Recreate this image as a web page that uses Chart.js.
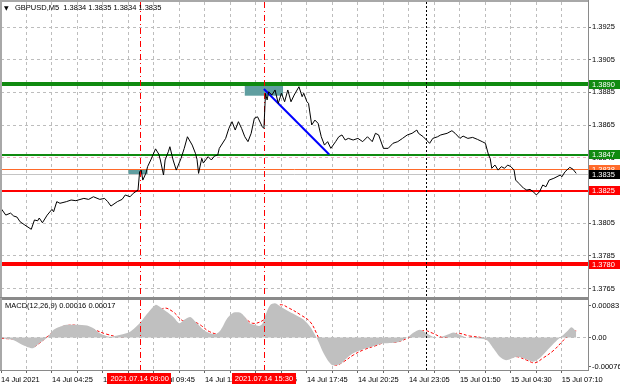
<!DOCTYPE html>
<html>
<head>
<meta charset="utf-8">
<script src="https://cdn.jsdelivr.net/npm/chart.js@4.4.0/dist/chart.umd.min.js"></script>
<style>
  html, body { margin: 0; padding: 0; background: #fff; }
  #wrap { position: relative; width: 620px; height: 388px; overflow: hidden; background: #fff; }
  #priceCanvas { position: absolute; left: 0; top: 0; }
  #macdCanvas { position: absolute; left: 0; top: 298px; }
</style>
</head>
<body>
<div id="wrap">
  <canvas id="priceCanvas" width="620" height="298"></canvas>
  <canvas id="macdCanvas" width="620" height="90"></canvas>
</div>
<script>
// ---- data (x = M5 bar index from the left edge) ----
const priceBars = [0, 3, 6, 8, 10, 12, 15, 19, 21, 23, 24, 26, 29, 32, 33, 35, 37, 41, 44, 47, 52, 55, 58, 62, 65, 67, 69, 73, 76, 78, 81, 83, 86,
  87, 88, 89, 91, 92, 94, 97, 99, 100, 102, 103, 105, 106, 108, 110, 113, 115, 117, 120, 122, 123, 124, 126, 127, 130, 132, 134, 136, 137,
  141, 143, 145, 147, 149, 151, 153, 155, 157, 159, 161, 164, 165, 166, 167, 168, 170, 172, 174, 176, 178, 180, 182, 184, 187, 189, 190,
  192, 193, 195, 197, 199, 201, 203, 205, 207, 210, 212, 214, 216, 218, 221, 224, 227, 230, 233, 235, 237, 240, 243, 246, 249, 252, 255,
  258, 261, 262, 265, 267, 269, 271, 274, 276, 280, 283, 285, 288, 290, 293, 296, 299, 302, 304, 306, 307, 308, 310, 312, 314, 316, 318,
  320, 322, 323, 325, 328, 330, 332, 334, 336, 338, 340, 342, 344, 347, 351, 352, 354, 357, 359, 361];
const priceValues = [1.38141, 1.38100, 1.38112, 1.38094, 1.38088, 1.38059, 1.38039, 1.38013, 1.38070, 1.38065, 1.38082, 1.38053, 1.38100,
  1.38135, 1.38120, 1.38182, 1.38172, 1.38182, 1.38192, 1.38188, 1.38202, 1.38196, 1.38212, 1.38196, 1.38202, 1.38182, 1.38155, 1.38182,
  1.38196, 1.38223, 1.38212, 1.38233, 1.38253,
  1.38365, 1.38375, 1.38314, 1.38357, 1.38396, 1.38437, 1.38505, 1.38473, 1.38437, 1.38345, 1.38437, 1.38487, 1.38518, 1.38437, 1.38375,
  1.38447, 1.38508, 1.38579, 1.38528, 1.38478, 1.38441, 1.38355, 1.38447, 1.38418, 1.38457, 1.38437, 1.38461, 1.38467, 1.38508,
  1.38569, 1.38630, 1.38671, 1.38620, 1.38671, 1.38630, 1.38579, 1.38549, 1.38600, 1.38692, 1.38701, 1.38640, 1.38630, 1.38844, 1.38804,
  1.38854, 1.38834, 1.38865, 1.38783, 1.38845, 1.38793, 1.38865, 1.38793, 1.38834, 1.38885, 1.38824, 1.38845,
  1.38793, 1.38783, 1.38651, 1.38681, 1.38661, 1.38579, 1.38528, 1.38549, 1.38508, 1.38549, 1.38579, 1.38590, 1.38559, 1.38569, 1.38559,
  1.38569, 1.38549, 1.38579, 1.38549, 1.38600, 1.38590, 1.38508, 1.38508, 1.38539, 1.38549, 1.38569, 1.38590,
  1.38600, 1.38620, 1.38600, 1.38579, 1.38559, 1.38539, 1.38569, 1.38579, 1.38590, 1.38600, 1.38616, 1.38600, 1.38569, 1.38583, 1.38569,
  1.38575, 1.38563, 1.38549, 1.38539, 1.38467, 1.38447, 1.38386, 1.38406, 1.38375, 1.38396, 1.38386, 1.38406,
  1.38396, 1.38375, 1.38314, 1.38294, 1.38264, 1.38253, 1.38257, 1.38243, 1.38223, 1.38243, 1.38284, 1.38273, 1.38314, 1.38325, 1.38345,
  1.38334, 1.38365, 1.38392, 1.38380, 1.38355];

const macdBars = [0, 8, 14, 20, 24, 29, 33, 37, 41, 47, 54, 58, 62, 68, 75, 81, 87, 92, 97, 100, 104, 108, 112, 115, 119, 123, 127, 131,
  135, 138, 142, 146, 150, 153, 156, 159, 162, 164, 166, 169, 172, 176, 181, 186, 190, 194, 198, 202, 205, 208, 213, 217, 221, 227, 234,
  240, 245, 250, 255, 259, 263, 267, 271, 275, 280, 284, 288, 292, 298, 305, 309, 313, 317, 324, 330, 334, 338, 342, 347, 351, 355, 358, 361];
const macdValues = [-0.00002, -0.00007, -0.00020, -0.00028, -0.00015, 0, 0.00020, 0.00028, 0.00033, 0.00033, 0.00031, 0.00024, 0.00011,
  0.00002, 0.00007, 0.00015, 0.00037, 0.00063, 0.00085, 0.00079, 0.00067, 0.00054, 0.00037, 0.00046, 0.00053, 0.00037, 0.00020, 0.00011,
  0.00009, 0.00020, 0.00050, 0.00065, 0.00065, 0.00054, 0.00037, 0.00033, 0.00030, 0.00035, 0.00059, 0.00085, 0.00089, 0.00079, 0.00067,
  0.00056, 0.00046, 0.00028, 0, -0.00037, -0.00059, -0.00072, -0.00069, -0.00054, -0.00041, -0.00031, -0.00022,
  -0.00015, -0.00014, -0.00011, 0, 0.00013, 0.00020, 0.00011, 0.00002, 0, 0.00007, 0.00013, 0.00007, 0, -0.00002, -0.00007, -0.00028,
  -0.00050, -0.00059, -0.00050, -0.00057, -0.00063, -0.00054, -0.00037, -0.00015, 0, 0.00015, 0.00027, 0.00016];

const signalBars = [0, 12, 20, 24, 29, 35, 41, 49, 58, 66, 75, 83, 89, 96, 102, 108, 114, 121, 125, 131, 137, 144, 148, 152, 158, 165,
  169, 175, 181, 188, 194, 198, 202, 206, 210, 215, 221, 227, 236, 242, 248, 255, 261, 266, 271, 278, 286, 294, 303, 311, 317, 324, 330,
  335, 340, 347, 353, 359, 361];
const signalValues = [-0.00002, -0.00007, -0.00024, -0.00015, 0.00002, 0.00021, 0.00031, 0.00031, 0.00021, 0.00009, 0.00002, 0.00009,
  0.00024, 0.00050, 0.00076, 0.00067, 0.00044, 0.00041, 0.00033, 0.00015, 0.00011, 0.00037, 0.00059, 0.00054, 0.00037, 0.00046,
  0.00063, 0.00085, 0.00076, 0.00059, 0.00041, 0.00011, -0.00028, -0.00059, -0.00072, -0.00063, -0.00046, -0.00033, -0.00020, -0.00011,
  -0.00012, -0.00002, 0.00011, 0.00018, 0.00011, 0, 0.00011, 0.00004, -0.00002, -0.00020, -0.00050, -0.00050, -0.00059,
  -0.00066, -0.00054, -0.00033, -0.00007, 0.00015, 0.00017];

const trendBars = [165, 206];
const trendPrices = [1.38871, 1.38470];
const zoneBars = [[80, 92], [153, 177]];
const zonePrices = [[1.38380, 1.38345], [1.38895, 1.38830]];

const levelPrices = [1.3890, 1.3847, 1.3838, 1.3835, 1.3825, 1.3780];
const priceTicks = [1.3765, 1.3785, 1.3805, 1.3825, 1.3845, 1.3865, 1.3885, 1.3905, 1.3925];
const macdTicks = [-0.00076, 0, 0.00083];
const timeLabels = ['14 Jul 2021', '14 Jul 04:25', '14 Jul 07:05', '14 Jul 09:45', '14 Jul 12:25', '14 Jul 15:05',
  '14 Jul 17:45', '14 Jul 20:25', '14 Jul 23:05', '15 Jul 01:50', '15 Jul 04:30', '15 Jul 07:10'];
const markerBars = [87, 165, 267];
const markerLabels = ['2021.07.14 09:00', '2021.07.14 15:30', ''];
const headerText = 'GBPUSD,M5  1.3834 1.3835 1.3834 1.3835';
const macdText = 'MACD(12,26,9) 0.00016 0.00017';

// ---- look ----
const FONT = '"Liberation Sans", Arial, sans-serif';
const BAR_SPAN = 368.4;
const GRID_STEP = 16;
const GRID_COLOR = '#bdbdbd';
const FRAME = '#8a8a8a';
const levelStyles = [
  { line: '#108a10', width: 4, box: '#108a10' },
  { line: '#108a10', width: 2, box: '#108a10' },
  { line: '#ff6a2a', width: 1, box: '#ff6a2a' },
  { line: '#c4c4c4', width: 1, box: '#000000' },
  { line: '#ff0000', width: 2, box: '#ff0000' },
  { line: '#ff0000', width: 4, box: '#ff0000' }
];
const markerStyles = [
  { color: '#ff0000', dash: [6, 3, 1, 3] },
  { color: '#ff0000', dash: [6, 3, 1, 3] },
  { color: '#000000', dash: [2, 2] }
];

const xy = (bars, vals) => bars.map((b, i) => ({ x: b, y: vals[i] }));
const gridTicks = () => {
  const t = [];
  for (let b = 0; b <= 352; b += GRID_STEP) t.push({ value: b });
  return t;
};
// right axis: fixed width, no extra label padding above/below the plot
const fitRightAxis = s => { s.width = 32; s.paddingTop = 0; s.paddingBottom = 0; };

function drawMarkers(ctx, x, top, bottom) {
  markerBars.forEach((b, i) => {
    const px = Math.round(x.getPixelForValue(b)) + 0.5;
    ctx.strokeStyle = markerStyles[i].color;
    ctx.lineWidth = 1;
    ctx.setLineDash(markerStyles[i].dash);
    ctx.beginPath();
    ctx.moveTo(px, top);
    ctx.lineTo(px, bottom);
    ctx.stroke();
  });
  ctx.setLineDash([]);
}

const priceOverlay = {
  id: 'priceOverlay',
  beforeDatasetsDraw(chart) {
    const { ctx, chartArea: a, scales: { x, y } } = chart;
    ctx.save();
    ctx.beginPath();
    ctx.rect(a.left, a.top, a.right - a.left, a.bottom - a.top);
    ctx.clip();
    // teal zones
    ctx.fillStyle = '#5f9ea0';
    zoneBars.forEach((b, i) => {
      const x1 = x.getPixelForValue(b[0]), x2 = x.getPixelForValue(b[1]);
      const y1 = y.getPixelForValue(zonePrices[i][0]), y2 = y.getPixelForValue(zonePrices[i][1]);
      ctx.fillRect(x1, y1, x2 - x1, y2 - y1);
    });
    // horizontal levels
    levelPrices.forEach((p, i) => {
      const s = levelStyles[i];
      const py = Math.round(y.getPixelForValue(p)) + (s.width % 2 ? 0.5 : 0);
      ctx.strokeStyle = s.line;
      ctx.lineWidth = s.width;
      ctx.beginPath();
      ctx.moveTo(a.left, py);
      ctx.lineTo(a.right, py);
      ctx.stroke();
    });
    drawMarkers(ctx, x, a.top, a.bottom);
    ctx.restore();
  },
  afterDraw(chart) {
    const { ctx, chartArea: a, scales: { y } } = chart;
    ctx.save();
    ctx.font = '7.5px ' + FONT;
    ctx.textBaseline = 'middle';
    levelPrices.forEach((p, i) => {
      const py = y.getPixelForValue(p);
      ctx.fillStyle = levelStyles[i].box;
      ctx.fillRect(a.right + 1, Math.round(py - 4.5), 31, 9);
      ctx.fillStyle = '#fff';
      ctx.fillText(p.toFixed(4), a.right + 4, py + 0.5);
    });
    // frame
    ctx.fillStyle = '#a8a8a8';
    ctx.fillRect(0, 0, 2, chart.height);
    ctx.fillRect(0, 0, a.right + 1, 2);
    ctx.fillStyle = FRAME;
    ctx.fillRect(0, a.bottom, a.right + 1, chart.height - a.bottom);
    ctx.fillRect(a.right, 0, 1, chart.height);
    // header
    ctx.fillStyle = '#000';
    ctx.font = '6px "DejaVu Sans", sans-serif';
    ctx.fillText('\u25BC', 4, 8);
    ctx.font = '7.5px ' + FONT;
    ctx.fillText(headerText, 15, 8);
    ctx.restore();
  }
};

const macdOverlay = {
  id: 'macdOverlay',
  afterDatasetsDraw(chart) {
    const { ctx, chartArea: a, scales: { x } } = chart;
    ctx.save();
    drawMarkers(ctx, x, a.top, a.bottom);
    ctx.restore();
  },
  afterDraw(chart) {
    const { ctx, chartArea: a, scales: { x } } = chart;
    ctx.save();
    ctx.fillStyle = FRAME;
    ctx.fillRect(0, 0, a.right + 1, a.top);
    ctx.fillRect(0, a.bottom, a.right + 1, 1);
    ctx.fillRect(a.right, 0, 1, a.bottom);
    ctx.fillStyle = '#a8a8a8';
    ctx.fillRect(0, 0, 2, a.bottom);
    ctx.font = '7.5px ' + FONT;
    ctx.textBaseline = 'middle';
    ctx.fillStyle = '#000';
    ctx.fillText(macdText, 5, a.top + 6);
    markerBars.forEach((b, i) => {
      if (!markerLabels[i]) return;
      const px = x.getPixelForValue(b);
      const w = ctx.measureText(markerLabels[i]).width + 6;
      ctx.fillStyle = '#ff0000';
      ctx.fillRect(Math.round(px - w / 2), a.bottom + 3, Math.round(w), 11);
      ctx.fillStyle = '#fff';
      ctx.textAlign = 'center';
      ctx.fillText(markerLabels[i], px, a.bottom + 9);
      ctx.textAlign = 'left';
    });
    ctx.restore();
  }
};

new Chart(document.getElementById('priceCanvas'), {
  type: 'line',
  data: {
    datasets: [
      { data: xy(priceBars, priceValues), borderColor: '#000', borderWidth: 1, pointRadius: 0, tension: 0 },
      { data: xy(trendBars, trendPrices), borderColor: '#0000ff', borderWidth: 2, pointRadius: 0 }
    ]
  },
  options: {
    responsive: false,
    animation: false,
    layout: { padding: { left: 1, top: 2, right: 0, bottom: 1 } },
    plugins: { legend: { display: false }, tooltip: { enabled: false } },
    scales: {
      x: {
        type: 'linear', min: 0, max: BAR_SPAN,
        afterBuildTicks: s => { s.ticks = gridTicks(); },
        afterFit: s => { s.height = 0; s.paddingLeft = 0; s.paddingRight = 0; },
        ticks: { display: false },
        grid: { color: GRID_COLOR, drawTicks: false },
        border: { display: false, dash: [3, 3] }
      },
      y: {
        position: 'right', min: 1.37599, max: 1.39403,
        afterBuildTicks: s => { s.ticks = priceTicks.map(v => ({ value: v })); },
        afterFit: fitRightAxis,
        ticks: { color: '#000', padding: 1, font: { family: FONT, size: 7.5 }, callback: v => v.toFixed(4) },
        grid: {
          color: c => (c.tick && Math.abs(c.tick.value - 1.3845) < 1e-7) ? '#eeb0c0' : GRID_COLOR,
          tickLength: 3, tickColor: '#666', tickBorderDash: []
        },
        border: { display: false, dash: [3, 3] }
      }
    }
  },
  plugins: [priceOverlay]
});

new Chart(document.getElementById('macdCanvas'), {
  type: 'line',
  data: {
    datasets: [
      { data: xy(macdBars, macdValues), borderColor: 'rgba(0,0,0,0)', borderWidth: 0, backgroundColor: '#c0c0c0',
        fill: 'origin', pointRadius: 0, tension: 0.25 },
      { data: xy(signalBars, signalValues), borderColor: '#ff0000', borderWidth: 1, borderDash: [3, 2],
        fill: false, pointRadius: 0, tension: 0.4 }
    ]
  },
  options: {
    responsive: false,
    animation: false,
    layout: { padding: { left: 1, top: 2, right: 0, bottom: 0 } },
    plugins: { legend: { display: false }, tooltip: { enabled: false } },
    scales: {
      x: {
        type: 'linear', min: 0, max: BAR_SPAN,
        afterBuildTicks: s => { s.ticks = gridTicks(); },
        afterFit: s => { s.height = 18; s.paddingLeft = 0; },
        ticks: {
          autoSkip: false, maxRotation: 0, align: 'start', padding: 2, color: '#000',
          font: { family: FONT, size: 7.5 },
          callback: v => (v % 32 === 0 ? timeLabels[v / 32] : '')
        },
        grid: { color: GRID_COLOR, tickLength: 3, tickColor: '#666', tickBorderDash: [] },
        border: { display: false, dash: [3, 3] }
      },
      y: {
        position: 'right', min: -0.000846, max: 0.000977,
        afterBuildTicks: s => { s.ticks = macdTicks.map(v => ({ value: v })); },
        afterFit: fitRightAxis,
        ticks: { color: '#000', padding: 1, font: { family: FONT, size: 7.5 },
          callback: v => (v === 0 ? '0.00' : v.toFixed(5)) },
        grid: {
          color: c => (c.tick && c.tick.value === 0) ? GRID_COLOR : 'rgba(0,0,0,0)',
          tickLength: 3, tickColor: '#666', tickBorderDash: []
        },
        border: { display: false, dash: [3, 3] }
      }
    }
  },
  plugins: [macdOverlay]
});
</script>
</body>
</html>
